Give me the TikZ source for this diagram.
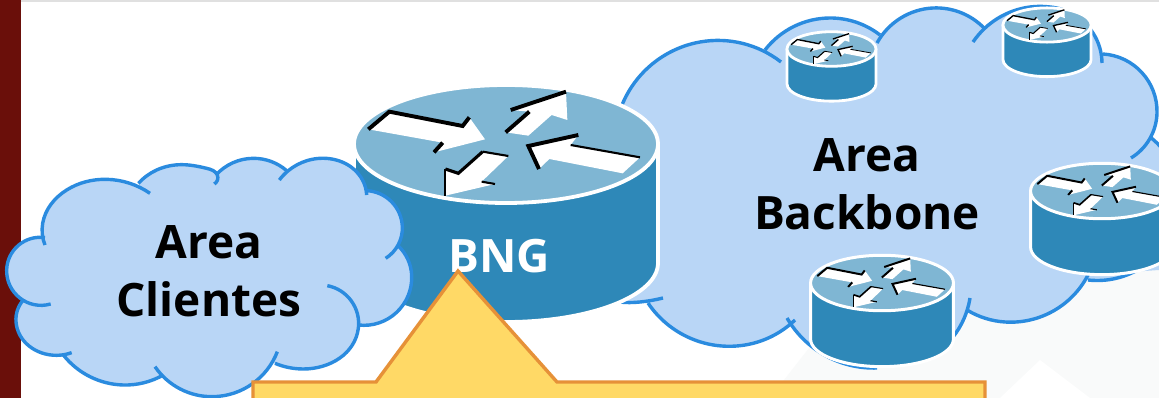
\documentclass[tikz,border=0pt]{standalone}
\usepackage{fontspec}
\setmainfont{Open Sans}
\usetikzlibrary{hobby}
\definecolor{cloudfill}{HTML}{B9D6F6}
\definecolor{cloudline}{HTML}{2A8BDF}
\definecolor{rtop}{HTML}{7FB6D3}
\definecolor{rbody}{HTML}{2E88B8}
\definecolor{strip}{HTML}{6A0F0A}
\definecolor{callfill}{HTML}{FFD966}
\definecolor{callline}{HTML}{E69138}
\definecolor{wm}{HTML}{F9FAFA}
\tikzset{
 lobeline/.style={draw=cloudline,line width=3.4pt,line cap=butt,use Hobby shortcut},
 lobefill/.style={fill=cloudfill,use Hobby shortcut},
 bigtext/.style={font=\fontsize{46}{58}\selectfont\bfseries,align=center,inner sep=0pt},
}
\newcommand{\router}[4]{%
 \begin{scope}[shift={(#1,#2)},scale=#3]
  \pgfmathsetlengthmacro{\thk}{3.6pt*#3+0.3pt}
  \pgfmathsetlengthmacro{\thn}{1.8pt*#3+0.3pt}
  \draw[white,line width=#4,fill=rbody,line join=round] (-152,0) -- (-152,119)
    .. controls (-152,151.6) and (-84,178) .. (0,178)
    .. controls (84,178) and (152,151.6) .. (152,119) -- (152,0) -- cycle;
  \draw[white,line width=#4,fill=rtop] (-152,0)
    .. controls (-152,-32.6) and (-84,-59) .. (0,-59)
    .. controls (84,-59) and (152,-32.6) .. (152,0)
    .. controls (152,32.6) and (84,59) .. (0,59)
    .. controls (-84,59) and (-152,32.6) .. (-152,0) -- cycle;
  \begin{scope}[scale=0.33333,shift={(-498,-222)}]
   \fill[white] (85,178)--(148,125)--(368,168)--(388,142)--(435,208)--(282,247)--(308,218)--cycle;
   \draw[line width=\thk] (85,178)--(148,125)--(368,168)--(388,142);
   \draw[line width=\thk] (282,247)--(308,218);
   \fill[white] (497,187)--(568,125)--(512,120)--(678,65)--(682,150)--(635,135)--(565,197)--cycle;
   \draw[line width=\thk] (512,120)--(678,65);
   \draw[line width=\thk] (497,187)--(568,125);
   \fill[white] (565,228)--(715,195)--(692,225)--(900,262)--(848,310)--(628,267)--(597,297)--cycle;
   \draw[line width=\thk] (597,297)--(565,228)--(715,195);
   \draw[line width=\thn] (692,225)--(900,262);
   \fill[white] (505,258)--(428,245)--(355,310)--(316,297)--(316,377)--(465,342)--(425,335)--cycle;
   \draw[line width=\thn] (505,258)--(428,245);
   \draw[line width=\thk*0.8] (428,245)--(355,310)--(316,297);
   \draw[line width=\thn] (316,297)--(316,377);
   \draw[line width=\thn] (425,335)--(465,342);
  \end{scope}
 \end{scope}}
\newcommand{\leftlobes}{%
 \lobe{(135,735) .. (128,670) .. (200,570) .. (320,538) .. (450,580)}
 \lobe{(415,550) .. (470,510) .. (545,494) .. (620,505) .. (652,525) .. (643,552)}
 \lobe{(648,525) .. (760,475) .. (860,512)}
 \lobe{(838,540) .. (960,475) .. (1090,545) .. (1100,585)}
 \lobe{(1100,572) .. (1207,680) .. (1157,775)}
 \lobe{(1195,738) .. (1235,825) .. (1075,975)}
 \lobe{(982,857) .. (1075,985) .. (910,1107) .. (825,1090)}
 \lobe{(832,1055) .. (640,1190) .. (465,1100)}
 \lobe{(490,1125) .. (370,1155) .. (190,1065)}
 \lobe{(215,1058) .. (170,1066) .. (48,965) .. (70,900)}
 \lobe{(152,912) .. (20,810) .. (135,713)}
}
\newcommand{\rightlobes}{%
 \lobe{(622,105) .. (700,42) .. (781,62)}
 \lobe{(765,50) .. (830,18) .. (880,35)}
 \lobe{(877,43) .. (933,8) .. (984,28)}
 \lobe{(973,42) .. (1030,7) .. (1050,7)}
 \lobe{(1050,7) .. (1093,33) .. (1102,63)}
 \lobe{(1103,54) .. (1157,113) .. (1131,158)}
 \lobe{(1150,137) .. (1180,200) .. (1088,280)}
 \lobe{(1088,275) .. (1005,322) .. (967,310)}
 \lobe{(970,298) .. (953,337) .. (925,360)}
 \lobe{(877,368) .. (830,358) .. (787,318)}
 \lobe{(795,320) .. (745,345) .. (648,303)}
 \lobe{(663,298) .. (640,302) .. (600,295) .. (590,200) .. (622,105)}
}
\begin{document}
\begin{tikzpicture}[x=1pt,y=-1pt]
\useasboundingbox (0,0) rectangle (1159,398);
\clip (0,0) rectangle (1159,398);
\fill[white] (0,0) rectangle (1159,398);
% faint backdrop
\fill[wm] (770,398)--(870,270)--(1159,260)--(1159,398)--cycle;
\fill[white] (1000,398)--(1040,360)--(1090,398)--cycle;
\fill[strip] (0,0) rectangle (21,398);
\fill[black!12] (21,0) rectangle (1159,2);
% right cloud
\coordinate (rc) at (880,180);
\newcommand{\lobe}[1]{\path[lobefill] #1 -- (rc) -- cycle;}
\rightlobes
\fill[cloudfill] (622,105)--(781,62)--(877,43)--(984,28)--(1102,63)--(1131,158)--(1170,200)--(1159,270)--(1088,275)--(970,298)--(877,350)--(787,318)--(648,303)--(600,295)--cycle;
\renewcommand{\lobe}[1]{\path[lobeline] #1;}
\rightlobes
\node[bigtext,anchor=center] (backbone) at (867,184) {Area\\Backbone};
% routers
\router{831.5}{49}{0.293}{2.8pt}
\router{1047}{25}{0.29}{2.8pt}
\router{1102}{191}{0.47}{3pt}
\router{882}{283}{0.47}{3pt}
\router{506}{144}{1}{3.8pt}
\node[font=\fontsize{46}{58}\selectfont\bfseries,text=white,inner sep=0pt,anchor=base] (bng) at (499,272) {BNG};
% left cloud
\begin{scope}[scale=0.33333]
\coordinate (lc) at (620,830);
\renewcommand{\lobe}[1]{\path[lobefill] #1 -- (lc) -- cycle;}
\leftlobes
\fill[cloudfill] (135,735)--(450,580)--(643,552)--(860,512)--(1100,585)--(1157,775)--(1075,975)--(825,1090)--(465,1100)--(190,1065)--(70,900)--(152,912)--cycle;
\renewcommand{\lobe}[1]{\path[lobeline] #1;}
\leftlobes
\end{scope}
\node[bigtext,anchor=center] (clientes) at (209,271) {Area\\Clientes};
% callout
\draw[fill=callfill,draw=callline,line width=3.4pt,line join=miter] (253,410)--(253,382)--(376,382)--(458,271)--(557,382)--(985,382)--(985,410)--cycle;
\end{tikzpicture}
\end{document}
